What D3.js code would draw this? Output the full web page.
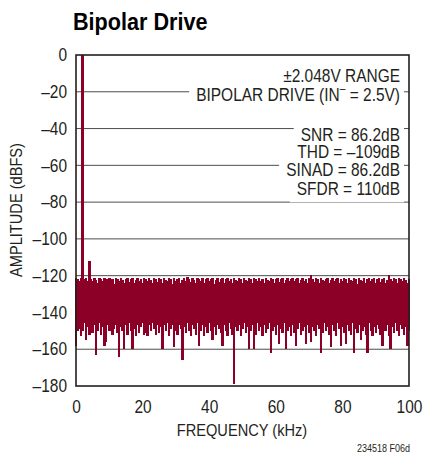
<!DOCTYPE html>
<html>
<head>
<meta charset="utf-8">
<script src="https://cdn.jsdelivr.net/npm/d3@7"></script>
<style>
  body { margin: 0; background: #fff; }
  svg { display: block; font-family: "Liberation Sans", Arial, sans-serif; }
  .tick-label { font-size: 18px; fill: #231f20; }
  .axis-title { font-size: 17px; fill: #231f20; }
  .note { font-size: 18px; fill: #231f20; }
</style>
</head>
<body>
<div id="chartContainer"></div>
<script>
// FFT bins, 0.5 kHz apart, 0 .. 100 kHz
var binKHz = 0.5;

// top of each bin (dBFS)
var binHigh = [
  -121, -122, -123, -121, 0, -122, -121.5, -123, -112, -122,
  -123, -121, -122.5, -124, -121, -122, -123, -121.5, -124, -122,
  -121, -123, -122, -124.5, -121.5, -122, -123, -121, -122.5, -124,
  -122, -121, -123.5, -122, -121, -124, -122.5, -121.5, -123, -122,
  -124, -121, -122, -123, -121.5, -122.5, -124, -121, -122, -123.5,
  -121.5, -122, -124, -121, -122.5, -123, -121, -122, -124.5, -121.5,
  -123, -122, -121, -124, -122.5, -121, -123, -120.5, -122, -123.5,
  -121, -122.5, -124, -121.5, -122, -123, -121, -124, -122, -121.5,
  -123, -122, -121, -124.5, -122.5, -121, -123.5, -122, -121, -124,
  -122, -121.5, -123, -122, -124, -121, -122.5, -123, -121, -122,
  -124, -121, -122.5, -123, -121.5, -122, -124, -121, -122, -123,
  -121.5, -123, -122, -124, -121, -122.5, -123, -121.5, -122, -124,
  -122, -121, -123.5, -122, -121, -124, -122.5, -121, -123, -122,
  -121.5, -123, -122, -121, -124, -122.5, -121, -123, -122, -124,
  -121, -119.5, -122, -123.5, -121.5, -122, -124, -121, -122.5, -123,
  -122, -121, -124, -122.5, -121, -123, -122, -121.5, -124, -122,
  -123, -121.5, -122, -124, -121, -122.5, -123, -121, -122, -124.5,
  -121, -122.5, -123, -121, -124, -122, -121.5, -123, -122, -121,
  -124, -122, -121, -123.5, -122, -121, -124, -122.5, -119.5, -122,
  -123, -121, -122, -124, -121.5, -122, -123, -121, -122.5, -124,
  -122
];

// bottom of each bin (dBFS)
var binLow = [
  -158, -150, -149, -153, -150, -146, -155, -148, -152, -149,
  -151, -147, -163, -150, -146, -152, -148, -158, -156, -147,
  -150, -146, -152, -149, -147, -151, -164, -148, -150, -160,
  -147, -152, -146, -150, -160, -149, -153, -147, -151, -148,
  -146, -152, -151, -153, -147, -150, -146, -149, -152, -147,
  -151, -148, -160, -147, -150, -146, -153, -149, -147, -159,
  -150, -152, -147, -149, -166, -148, -151, -146, -150, -153,
  -147, -149, -152, -146, -158, -150, -147, -153, -148, -151,
  -146, -150, -155, -148, -152, -147, -149, -151, -158, -147,
  -150, -153, -146, -149, -152, -179, -148, -150, -147, -153,
  -149, -146, -151, -148, -160, -150, -147, -160, -152, -146,
  -150, -148, -153, -147, -151, -149, -146, -162, -150, -148,
  -152, -147, -157, -149, -151, -146, -160, -150, -148, -153,
  -147, -151, -158, -149, -146, -152, -150, -148, -157, -147,
  -151, -156, -148, -150, -153, -147, -149, -162, -151, -146,
  -150, -148, -152, -159, -147, -150, -153, -146, -149, -158,
  -148, -151, -157, -147, -150, -152, -146, -162, -149, -151,
  -147, -155, -150, -148, -152, -162, -146, -150, -153, -148,
  -151, -147, -149, -152, -158, -148, -150, -147, -153, -160,
  -148, -151, -146, -150, -153, -147, -149, -152, -148, -158,
  -150
];

var yTicks = [0, -20, -40, -60, -80, -100, -120, -140, -160, -180];
var xTicks = [0, 20, 40, 60, 80, 100];
var gridLevels = [-20, -40, -60, -80, -100, -120, -140, -160];

var noteLines = [
  { text: "±2.048V RANGE", y: 82 },
  { text: "BIPOLAR DRIVE (IN", sup: "–", tail: " = 2.5V)", y: 101 },
  { text: "SNR = 86.2dB", y: 141 },
  { text: "THD = –109dB", y: 158 },
  { text: "SINAD = 86.2dB", y: 176 },
  { text: "SFDR = 110dB", y: 195 }
];

var W = 424, H = 454;
var plot = { left: 76, right: 409, top: 55, bottom: 386 };
var red = "#8c0028";
var squeeze = 0.86; // condensed look from a regular face

var svg = d3.select("#chartContainer")
  .append("svg")
  .attr("width", W)
  .attr("height", H);

var xScale = d3.scaleLinear().domain([0, 100]).range([plot.left, plot.right]);
var yScale = d3.scaleLinear().domain([-180, 0]).range([plot.bottom, plot.top]);

var fmt = d => (d < 0 ? "–" + Math.abs(d) : "" + d);

// narrow a text horizontally while keeping its anchor point
function condense(sel, s) {
  sel.each(function() {
    var t = d3.select(this);
    var x = +t.attr("x") || 0;
    t.attr("x", x / s).attr("transform", "scale(" + s + ",1)");
  });
}

// title
svg.append("text")
  .attr("x", 73)
  .attr("y", 30)
  .style("font-size", "24px")
  .style("font-weight", "bold")
  .attr("fill", "#000")
  .text("Bipolar Drive")
  .call(condense, 0.9);

// grid lines
svg.append("g")
  .selectAll("line")
  .data(gridLevels)
  .enter()
  .append("line")
  .attr("x1", plot.left)
  .attr("x2", plot.right)
  .attr("y1", d => yScale(d))
  .attr("y2", d => yScale(d))
  .attr("stroke", "#4d4d4d")
  .attr("stroke-width", 1);

// spectrum: one vertical stroke per bin from its low to its high
var bins = binHigh.map((h, i) => ({ f: i * binKHz, hi: h, lo: binLow[i] }));

svg.append("g")
  .attr("shape-rendering", "crispEdges")
  .selectAll("line")
  .data(bins)
  .enter()
  .append("line")
  .attr("x1", d => xScale(d.f))
  .attr("x2", d => xScale(d.f))
  .attr("y1", d => yScale(d.hi))
  .attr("y2", d => yScale(d.lo))
  .attr("stroke", red)
  .attr("stroke-width", 2.4);

// annotations with white boxes behind
var noteBoxes = svg.append("g");
var noteTexts = svg.append("g");
noteLines.forEach(n => {
  var t = noteTexts.append("text")
    .attr("class", "note")
    .attr("x", 400)
    .attr("y", n.y)
    .attr("text-anchor", "end");
  t.append("tspan").text(n.text);
  if (n.sup) {
    t.append("tspan").attr("dy", -8).style("font-size", "12px").text(n.sup);
    t.append("tspan").attr("dy", 8).text(n.tail);
  }
  t.call(condense, squeeze);
  var bb = t.node().getBBox();
  noteBoxes.append("rect")
    .attr("x", bb.x * squeeze - 7)
    .attr("y", bb.y)
    .attr("width", bb.width * squeeze + 11)
    .attr("height", bb.height + 3)
    .attr("fill", "#fff");
});

// frame
svg.append("rect")
  .attr("x", plot.left)
  .attr("y", plot.top)
  .attr("width", plot.right - plot.left)
  .attr("height", plot.bottom - plot.top)
  .attr("fill", "none")
  .attr("stroke", "#231f20")
  .attr("stroke-width", 1.6);

// axes
var yAxis = d3.axisLeft(yScale).tickValues(yTicks).tickFormat(fmt).tickSize(0).tickPadding(9);
var xAxis = d3.axisBottom(xScale).tickValues(xTicks).tickFormat(fmt).tickSize(0).tickPadding(14);

svg.append("g")
  .attr("transform", "translate(" + plot.left + ",0)")
  .call(yAxis)
  .call(g => g.select(".domain").remove())
  .selectAll("text")
  .attr("class", "tick-label")
  .call(condense, squeeze);

svg.append("g")
  .attr("transform", "translate(0," + plot.bottom + ")")
  .call(xAxis)
  .call(g => g.select(".domain").remove())
  .selectAll("text")
  .attr("class", "tick-label")
  .call(condense, squeeze);

svg.selectAll(".tick").each(function() {
  d3.select(this.parentNode).attr("font-family", null).attr("font-size", null);
});

// axis titles
svg.append("text")
  .attr("class", "axis-title")
  .attr("x", 242)
  .attr("y", 436)
  .attr("text-anchor", "middle")
  .text("FREQUENCY (kHz)")
  .call(condense, squeeze);

svg.append("g")
  .attr("transform", "translate(22,210) rotate(-90)")
  .append("text")
  .attr("class", "axis-title")
  .attr("text-anchor", "middle")
  .text("AMPLITUDE (dBFS)")
  .call(condense, squeeze);

svg.append("text")
  .attr("x", 410)
  .attr("y", 452)
  .attr("text-anchor", "end")
  .style("font-size", "10px")
  .attr("fill", "#231f20")
  .text("234518 F06d")
  .call(condense, 0.9);
</script>
</body>
</html>
